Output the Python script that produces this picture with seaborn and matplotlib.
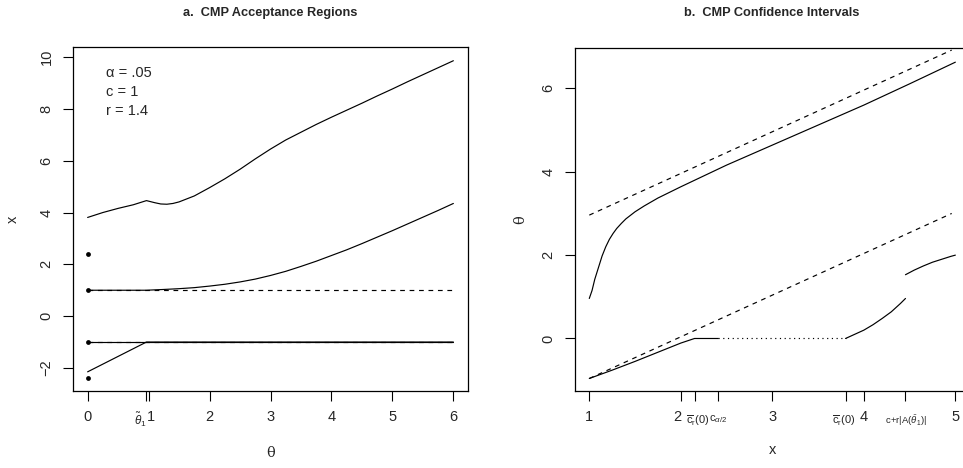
import numpy as np
import pandas as pd
import matplotlib
matplotlib.use("Agg")
import matplotlib.pyplot as plt
import matplotlib.transforms as mtransforms
import seaborn as sns

# ---------------- data: panel a ----------------
theta_upper = [0, 0.25, 0.5, 0.75, 0.965, 1.1, 1.2, 1.3, 1.4, 1.5, 1.75, 2.0,
               2.25, 2.5, 2.75, 3.0, 3.25, 3.5, 3.75, 4.0, 4.25, 4.5, 4.75,
               5.0, 5.25, 5.5, 5.75, 6.0]
x_upper = [3.81, 4.0, 4.16, 4.3, 4.46, 4.38, 4.33, 4.32, 4.35, 4.41, 4.64, 4.96,
           5.3, 5.67, 6.07, 6.45, 6.8, 7.1, 7.4, 7.68, 7.95, 8.22, 8.5,
           8.77, 9.05, 9.32, 9.59, 9.86]
theta_mid = [0, 0.965, 1.25, 1.5, 1.75, 2.0, 2.25, 2.5, 2.75, 3.0, 3.25, 3.5,
             3.75, 4.0, 4.25, 4.5, 4.75, 5.0, 5.25, 5.5, 5.75, 6.0]
x_mid = [1.0, 1.0, 1.03, 1.06, 1.1, 1.16, 1.23, 1.32, 1.43, 1.57, 1.73, 1.92,
         2.12, 2.34, 2.56, 2.8, 3.05, 3.3, 3.56, 3.82, 4.08, 4.35]
theta_low = [0, 0.965, 6.0]
x_low = [-2.15, -1.0, -1.0]
theta_hline = [0, 6]
x_hline_top = [1, 1]
x_hline_bot = [-1, -1]
theta_pts = [0, 0, 0, 0]
x_pts = [2.4, 1.0, -1.0, -2.4]
theta_tilde1 = 0.965
params_text = ["\u03b1 = .05", "c = 1", "r = 1.4"]

# ---------------- data: panel b ----------------
xb_dash = [1.0, 4.96]
up_dash = [2.96, 6.92]
low_dash = [-0.96, 3.0]
xb_upper = [1.0, 1.03, 1.06, 1.1, 1.14, 1.18, 1.22, 1.26, 1.3, 1.35, 1.4, 1.5,
            1.6, 1.75, 2.0, 2.25, 2.5, 2.75, 3.0, 3.5, 4.0, 4.5, 5.0]
b_upper = [0.96, 1.15, 1.42, 1.7, 1.98, 2.2, 2.38, 2.52, 2.64, 2.76, 2.87, 3.04,
           3.18, 3.37, 3.64, 3.9, 4.16, 4.4, 4.64, 5.12, 5.6, 6.11, 6.63]
xb_low1 = [1.0, 1.25, 1.5, 1.75, 2.0, 2.15, 2.41]
b_low1 = [-0.96, -0.76, -0.55, -0.33, -0.11, 0.0, 0.0]
xb_dot = [2.41, 3.80]
b_dot = [0.0, 0.0]
xb_low2 = [3.80, 3.9, 4.0, 4.1, 4.2, 4.3, 4.4, 4.455]
b_low2 = [0.0, 0.1, 0.2, 0.33, 0.48, 0.64, 0.84, 0.96]
xb_low3 = [4.455, 4.55, 4.65, 4.75, 4.85, 4.95, 5.0]
b_low3 = [1.53, 1.64, 1.74, 1.83, 1.9, 1.97, 2.0]
b_xticks = [1, 2, 2.15, 2.41, 3, 3.80, 4, 4.455, 5]
b_xticklabels = ["1", "2", r"$\overline{\mathrm{c}}_\mathrm{r}(0)$",
                 r"$\mathrm{c}_{\alpha/2}$", "3",
                 r"$\overline{\mathrm{c}}_\mathrm{r}(0)$", "4",
                 r"$\mathrm{c\!+\!r|A(}\bar{\theta}_\mathrm{1})\mathrm{|}$", "5"]
b_label_size = [None, None, 8, 8, None, 8, None, 6.8, None]

sns.set_theme(style="white")
plt.rcParams["font.family"] = ["Liberation Sans", "DejaVu Sans"]
plt.rcParams["mathtext.fontset"] = "custom"
plt.rcParams["mathtext.rm"] = "Liberation Sans"
plt.rcParams["mathtext.it"] = "Liberation Sans:italic"
plt.rcParams["mathtext.bf"] = "Liberation Sans:bold"

fig = plt.figure(figsize=(9.63, 4.68), dpi=100)
W, H = 963, 468
axA = fig.add_axes([73 / W, 1 - 391 / H, 395 / W, (391 - 47) / H])
axB = fig.add_axes([575 / W, 1 - 391 / H, 395 / W, (391 - 48) / H])

lw = 0.85
dash = (0, (4, 4))
FS = 10.5

def kw():
    return dict(color="black", lw=lw, estimator=None, sort=False, legend=False)

def shift(label, dx_px):
    label.set_transform(label.get_transform() +
                        mtransforms.ScaledTranslation(dx_px / 100, 0, fig.dpi_scale_trans))

# ---- panel a ----
sns.lineplot(x=theta_upper, y=x_upper, ax=axA, **kw())
sns.lineplot(x=theta_mid, y=x_mid, ax=axA, **kw())
sns.lineplot(x=theta_hline, y=x_hline_top, ax=axA, linestyle=dash, **kw())
sns.lineplot(x=theta_hline, y=x_hline_bot, ax=axA, **kw())
sns.lineplot(x=theta_hline, y=x_hline_bot, ax=axA, linestyle=dash, **kw())
sns.lineplot(x=theta_low, y=x_low, ax=axA, **kw())
sns.scatterplot(x=theta_pts, y=x_pts, ax=axA, color="black", s=12, linewidth=0,
                legend=False, zorder=5)
axA.set_xlim(-0.24, 6.24)
axA.set_ylim(-2.89, 10.39)
axA.set_xticks([0, theta_tilde1, 1, 2, 3, 4, 5, 6])
axA.set_xticklabels(["0", r"$\tilde{\theta}_\mathrm{1}$", "1", "2", "3", "4", "5", "6"])
axA.set_yticks([-2, 0, 2, 4, 6, 8, 10])
axA.set_yticklabels(["\u22122", "0", "2", "4", "6", "8", "10"], rotation=90, va="center")
for i, t in enumerate(params_text):
    axA.text(0.30, 9.38 - 0.73 * i, t, fontsize=FS, va="center", ha="left")
axA.set_xlabel("\u03b8", fontsize=FS, family=["DejaVu Serif"], labelpad=12)
axA.set_ylabel("x", fontsize=FS, labelpad=14)

# ---- panel b ----
sns.lineplot(x=xb_dash, y=up_dash, ax=axB, linestyle=dash, **kw())
sns.lineplot(x=xb_dash, y=low_dash, ax=axB, linestyle=dash, **kw())
sns.lineplot(x=xb_upper, y=b_upper, ax=axB, **kw())
sns.lineplot(x=xb_low1, y=b_low1, ax=axB, **kw())
sns.lineplot(x=xb_dot, y=b_dot, ax=axB, linestyle=(0, (1, 3)), **kw())
sns.lineplot(x=xb_low2, y=b_low2, ax=axB, **kw())
sns.lineplot(x=xb_low3, y=b_low3, ax=axB, **kw())
axB.set_xlim(0.844, 5.16)
axB.set_ylim(-1.26, 6.97)
axB.set_xticks(b_xticks)
axB.set_xticklabels(b_xticklabels)
axB.set_yticks([0, 2, 4, 6])
axB.set_yticklabels(["0", "2", "4", "6"], rotation=90, va="center")
axB.set_xlabel("x", fontsize=FS, labelpad=11)
axB.set_ylabel("\u03b8", fontsize=FS, family=["DejaVu Serif"], labelpad=10)

for ax in (axA, axB):
    for s in ax.spines.values():
        s.set_visible(True)
        s.set_color("black")
        s.set_linewidth(0.9)
    ax.tick_params(axis="both", which="both", direction="out", length=7, width=0.8,
                   color="black", labelsize=FS, pad=7, bottom=True, left=True)

labA = axA.get_xticklabels()
labA[1].set_fontsize(8.5)
shift(labA[1], -6)
shift(labA[2], 2)

for t, size in zip(axB.get_xticklabels(), b_label_size):
    if size is not None:
        t.set_fontsize(size)
        t.set_y(-0.008)
labB = axB.get_xticklabels()
shift(labB[1], -3)
shift(labB[2], 3)
shift(labB[5], -2)

fig.text(270 / W, 1 - 13 / H, "a.  CMP Acceptance Regions", ha="center", va="center",
         fontsize=9.2, fontweight="bold")
fig.text(772 / W, 1 - 13 / H, "b.  CMP Confidence Intervals", ha="center", va="center",
         fontsize=9.2, fontweight="bold")

fig.savefig("out.png", dpi=100)
